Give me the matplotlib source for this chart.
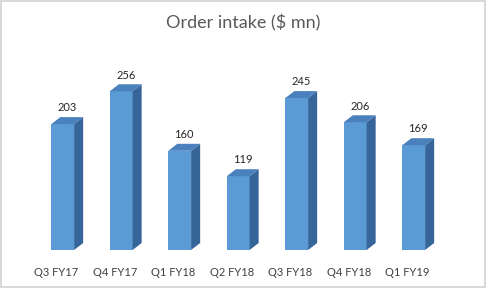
import matplotlib.pyplot as plt
from matplotlib.patches import Polygon

quarters = ['Q3 FY17', 'Q4 FY17', 'Q1 FY18', 'Q2 FY18', 'Q3 FY18', 'Q4 FY18', 'Q1 FY19']
order_intake = [203, 256, 160, 119, 245, 206, 169]

front_col = '#5b9bd5'
side_col = '#36659a'
top_col = '#4a80bb'

fig = plt.figure(figsize=(4.86, 2.88), dpi=100)
fig.patch.set_edgecolor('#d9d9d9')
fig.patch.set_linewidth(1.5)
ax = fig.add_axes([27 / 486, 38 / 288, 409.5 / 486, 186 / 288])
ax.set_xlim(-0.5, 6.5)
ax.set_ylim(0, 300)

w = 0.39      # front face width (data units)
shift = 0.11  # front face offset from category centre
dx = 0.155    # depth in x (data units)
dy = 11.3     # depth in y (data units)

for i, v in enumerate(order_intake):
    x0 = i + shift - w / 2
    x1 = x0 + w
    ax.bar(x0, v, width=w, align='edge', color=front_col, zorder=3)
    ax.add_patch(Polygon([(x1, 0), (x1, v), (x1 + dx, v + dy), (x1 + dx, dy)],
                         closed=True, facecolor=side_col, edgecolor='none', zorder=3))
    ax.add_patch(Polygon([(x0, v), (x1, v), (x1 + dx, v + dy), (x0 + dx, v + dy)],
                         closed=True, facecolor=top_col, edgecolor='none', zorder=3))
    ax.text(i + shift + dx / 2, v + dy + 6, str(v), ha='center', va='bottom',
            fontsize=8, family='Lato', color='#262626')

ax.set_xticks(range(len(quarters)))
ax.set_xticklabels(quarters, fontsize=8, family='Lato', color='#404040')
ax.tick_params(axis='x', length=0, pad=12)
ax.set_yticks([])
for s in ax.spines.values():
    s.set_visible(False)

fig.text(0.5, 1 - 23 / 288, 'Order intake ($ mn)', ha='center', va='center',
         fontsize=13, family='Lato', color='#595959')

fig.savefig('out.png', dpi=100)
